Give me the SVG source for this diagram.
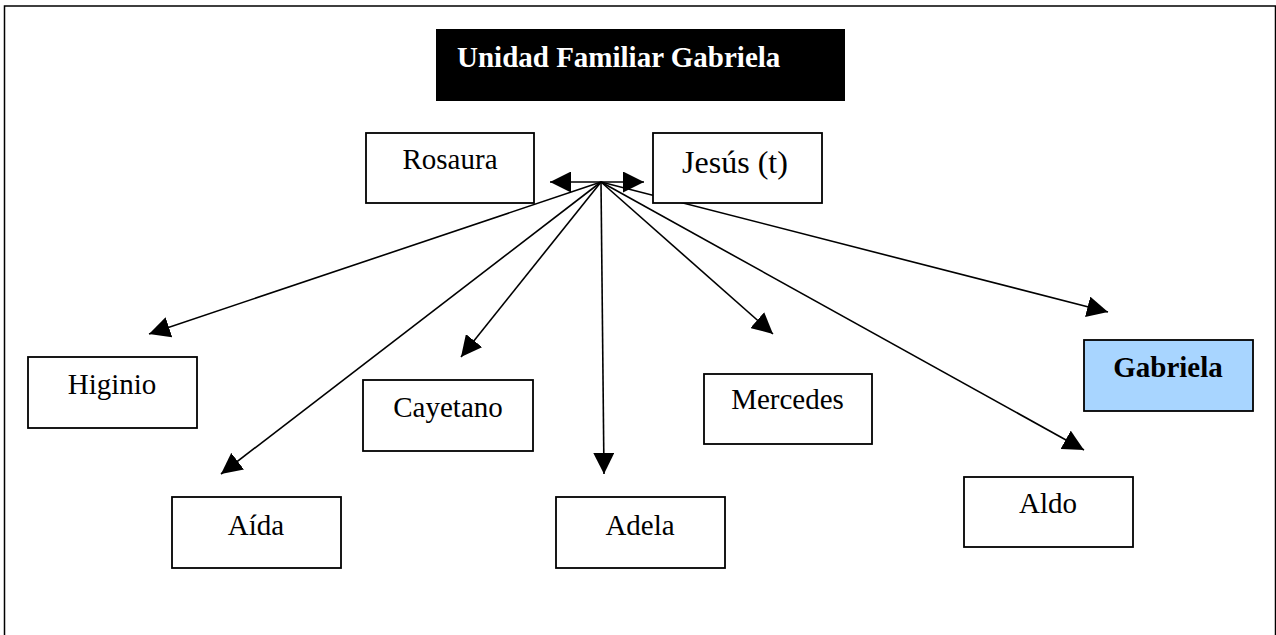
<svg xmlns="http://www.w3.org/2000/svg" width="1276" height="635" viewBox="0 0 1276 635">
<style>
  .box { fill: #ffffff; stroke: #000000; stroke-width: 1.8; }
  .lbl { font-family: "Liberation Serif", "Times New Roman", serif; font-size: 29px; fill: #000000; text-anchor: middle; }
  .conn { stroke: #000000; stroke-width: 1.6; fill: none; marker-end: url(#ah); }
</style>
<defs>
  <marker id="ah" viewBox="0 0 20 20" refX="20" refY="10" markerWidth="21" markerHeight="21" markerUnits="userSpaceOnUse" orient="auto-start-reverse">
    <path d="M0,0 L20,10 L0,20 z" fill="#000000"/>
  </marker>
</defs>
<rect x="0" y="0" width="1276" height="635" fill="#ffffff"/>
<path d="M4.5,635 L4.5,6 L1275.5,6 L1275.5,635" fill="none" stroke="#000000" stroke-width="1.5"/>
<g id="connectors">
  <line class="conn" x1="601" y1="182" x2="149" y2="334"/>
  <line class="conn" x1="601" y1="182" x2="221" y2="474"/>
  <line class="conn" x1="601" y1="182" x2="461" y2="357"/>
  <line class="conn" x1="601" y1="182" x2="604" y2="474"/>
  <line class="conn" x1="601" y1="182" x2="773" y2="334"/>
  <line class="conn" x1="601" y1="182" x2="1084" y2="450"/>
  <line class="conn" x1="601" y1="182" x2="1108" y2="312"/>
  <line class="conn" x1="550" y1="182" x2="644" y2="182" marker-start="url(#ah)"/>
</g>
<g id="title">
  <rect x="436" y="29" width="409" height="72" fill="#000000"/>
  <text x="457" y="67" font-family="Liberation Serif, Times New Roman, serif" font-size="29" font-weight="bold" fill="#ffffff">Unidad Familiar Gabriela</text>
</g>
<g id="rosaura">
  <rect class="box" x="366" y="133" width="168" height="70"/>
  <text class="lbl" x="450" y="169">Rosaura</text>
</g>
<g id="jesus">
  <rect class="box" x="653" y="133" width="169" height="70"/>
  <text class="lbl" x="735" y="173" style="font-size:32px">Jesús (t)</text>
</g>
<g id="higinio">
  <rect class="box" x="28" y="357" width="169" height="71"/>
  <text class="lbl" x="112" y="394">Higinio</text>
</g>
<g id="cayetano">
  <rect class="box" x="363" y="380" width="170" height="71"/>
  <text class="lbl" x="448" y="417">Cayetano</text>
</g>
<g id="mercedes">
  <rect class="box" x="704" y="374" width="168" height="70"/>
  <text class="lbl" x="787.5" y="409">Mercedes</text>
</g>
<g id="gabriela">
  <rect x="1084" y="340" width="169" height="71" fill="#a8d5ff" stroke="#000000" stroke-width="1.8"/>
  <text class="lbl" x="1168" y="377" font-weight="bold">Gabriela</text>
</g>
<g id="aida">
  <rect class="box" x="172" y="497" width="169" height="71"/>
  <text class="lbl" x="256" y="535">Aída</text>
</g>
<g id="adela">
  <rect class="box" x="556" y="497" width="169" height="71"/>
  <text class="lbl" x="640" y="535">Adela</text>
</g>
<g id="aldo">
  <rect class="box" x="964" y="477" width="169" height="70"/>
  <text class="lbl" x="1048" y="513">Aldo</text>
</g>
</svg>
